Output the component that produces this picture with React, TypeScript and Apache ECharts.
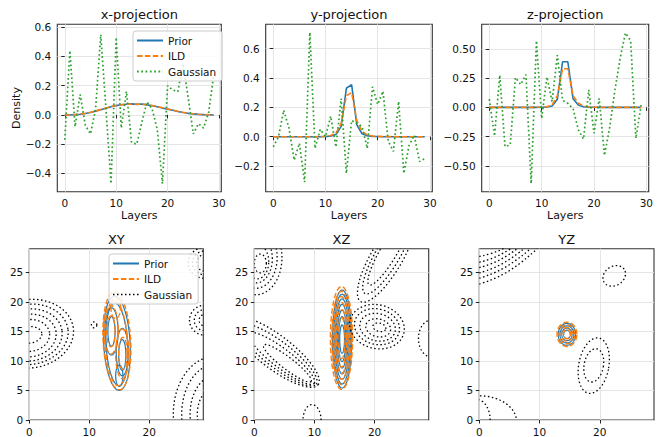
import React, { useEffect, useRef } from 'react';
import * as echarts from 'echarts';

const FONT = 'DejaVu Sans, Verdana, sans-serif';

// ---- 1D projections (density per layer) ----
const layers = Array.from({ length: 30 }, (_, i) => i);

const priorX = [0.0, 0.0, 0.002, 0.005, 0.01, 0.017, 0.026, 0.036, 0.046, 0.056, 0.064, 0.07, 0.073, 0.076, 0.072, 0.075, 0.069, 0.063, 0.056, 0.048, 0.04, 0.032, 0.024, 0.017, 0.011, 0.007, 0.004, 0.002, 0.001, 0.0];
const ildX = [0.0, 0.0, 0.002, 0.006, 0.011, 0.018, 0.027, 0.037, 0.047, 0.057, 0.065, 0.07, 0.074, 0.073, 0.074, 0.073, 0.07, 0.064, 0.057, 0.049, 0.041, 0.033, 0.025, 0.018, 0.012, 0.008, 0.005, 0.003, 0.001, 0.0];
const gaussX = [-0.17, 0.44, -0.08, 0.14, -0.07, -0.13, 0.04, 0.55, 0.05, -0.47, 0.53, -0.09, 0.16, -0.19, -0.2, -0.05, 0.09, 0.04, -0.1, -0.47, 0.2, 0.17, 0.16, 0.35, 0.12, -0.13, -0.06, -0.09, 0.02, 0.28];

const priorY = [0, 0, 0, 0, 0, 0, 0, 0, 0, 0, 0.001, 0.004, 0.015, 0.07, 0.33, 0.355, 0.08, 0.02, 0.006, 0.002, 0.001, 0, 0, 0, 0, 0, 0, 0, 0, 0];
const ildY = [0, 0, 0, 0, 0, 0, 0, 0, 0, 0.001, 0.003, 0.008, 0.025, 0.09, 0.28, 0.3, 0.11, 0.035, 0.012, 0.005, 0.002, 0.001, 0.001, 0, 0, 0, 0, 0, 0, 0];
const gaussY = [-0.07, 0.0, 0.18, 0.06, -0.16, -0.045, -0.31, 0.71, -0.08, 0.05, 0.0, 0.14, -0.07, 0.26, -0.25, 0.11, 0.09, 0.07, -0.08, 0.34, 0.22, 0.31, -0.03, -0.1, 0.24, -0.25, -0.06, 0.01, -0.17, -0.15];

const priorZ = [0, 0, 0, 0, 0, 0, 0, 0, 0, 0, 0.001, 0.003, 0.012, 0.07, 0.39, 0.39, 0.075, 0.02, 0.006, 0.002, 0.001, 0, 0, 0, 0, 0, 0, 0, 0, 0];
const ildZ = [0, 0, 0, 0, 0, 0, 0, 0, 0, 0.001, 0.003, 0.006, 0.02, 0.1, 0.33, 0.33, 0.1, 0.035, 0.012, 0.005, 0.002, 0.001, 0, 0, 0, 0, 0, 0, 0, 0];
const gaussZ = [0.07, -0.245, 0.275, -0.335, -0.32, 0.255, 0.195, 0.28, -0.65, 0.57, -0.094, 0.26, 0.05, 0.446, 0.06, 0.035, -0.01, -0.19, -0.27, 0.15, -0.22, 0.077, -0.41, -0.17, 0.15, 0.42, 0.636, 0.57, -0.265, 0.02];

// ---- tick labels ----
const layerTicks = [0, 10, 20, 30];
const xProjTicks = [-0.4, -0.2, 0, 0.2, 0.4, 0.6];
const yProjTicks = [-0.2, 0, 0.2, 0.4, 0.6];
const zProjTicks = [-0.5, -0.25, 0, 0.25, 0.5];
const planeHTicks = [0, 10, 20];
const planeVTicks = [0, 5, 10, 15, 20, 25];

// ---- 2D contour levels: [centerX, centerY, radiusX, radiusY, rotationDeg] ----
const xyPrior = [
  [14.6, 13.0, 2.2, 8.0, 3],
  [14.6, 12.8, 1.8, 7.0, 3],
  [13.7, 15.0, 1.1, 4.0, 0],
  [15.5, 11.5, 1.0, 4.0, 0],
  [13.7, 15.0, 0.6, 2.5, 0],
  [15.5, 11.0, 0.6, 2.6, 0],
  [15.0, 7.5, 0.6, 1.8, 0],
];
const xyILD = [
  [14.6, 13.4, 2.3, 8.3, 3],
  [14.5, 13.0, 1.9, 7.2, 3],
  [13.6, 15.3, 1.2, 4.1, 0],
  [15.5, 11.2, 1.1, 4.2, 0],
  [13.6, 15.0, 0.7, 2.6, 0],
  [15.6, 11.3, 0.7, 2.7, 0],
  [14.4, 19.0, 0.8, 1.8, 0],
];
const xyGauss = [
  [0.0, 14.6, 7.4, 5.8, 8],
  [0.0, 14.5, 6.5, 5.1, 8],
  [0.0, 14.4, 5.5, 4.4, 8],
  [0.0, 14.3, 4.5, 3.6, 8],
  [0.0, 14.3, 3.4, 2.7, 8],
  [0.0, 14.4, 2.1, 1.4, 8],
  [10.8, 16.1, 0.45, 0.5, 0],
  [29.2, 26.6, 2.7, 2.6, 0],
  [29.2, 26.6, 2.0, 2.0, 0],
  [29.2, 26.6, 1.3, 1.4, 0],
  [29.3, 16.9, 2.6, 2.55, 0],
  [29.3, 16.9, 1.8, 1.8, 0],
  [29.3, 16.9, 1.0, 1.0, 0],
  [31.0, 1.0, 7.0, 9.8, 0],
  [31.0, 1.0, 5.6, 8.4, 0],
  [31.0, 1.0, 4.2, 6.5, 0],
  [31.0, 1.0, 3.0, 4.5, 0],
];

const xzPrior = [
  [14.6, 13.7, 1.6, 8.3, 0],
  [14.6, 13.7, 1.4, 7.6, 0],
  [14.6, 13.7, 1.2, 6.8, 0],
  [14.6, 13.7, 1.0, 5.9, 0],
  [14.6, 13.7, 0.8, 4.9, 0],
  [14.6, 13.7, 0.6, 3.8, 0],
  [14.6, 13.7, 0.4, 2.4, 0],
];
const xzILD = [
  [14.5, 13.9, 1.85, 8.7, 0],
  [14.5, 13.9, 1.6, 7.9, 0],
  [14.5, 13.9, 1.35, 7.0, 0],
  [14.5, 13.9, 1.1, 6.0, 0],
  [14.5, 13.9, 0.85, 4.9, 0],
  [14.5, 13.9, 0.6, 3.5, 0],
];
const xzGauss = [
  [0.3, 27.5, 4.3, 6.3, 0],
  [0.3, 27.5, 3.5, 5.2, 0],
  [0.3, 27.3, 2.7, 4.1, 0],
  [0.5, 26.8, 1.9, 2.9, 0],
  [1.0, 26.5, 1.0, 1.6, 0],
  [3.5, 11.5, 9.0, 2.8, -38],
  [4.0, 11.0, 8.0, 2.2, -38],
  [4.6, 10.4, 6.8, 1.6, -38],
  [5.5, 9.6, 5.0, 1.0, -38],
  [9.6, 0.0, 1.5, 2.6, 0],
  [20.4, 15.8, 4.6, 3.7, -15],
  [20.4, 15.8, 3.8, 3.0, -15],
  [20.5, 15.7, 3.0, 2.3, -15],
  [20.6, 15.6, 2.1, 1.5, -15],
  [20.8, 15.7, 1.1, 0.7, -15],
  [22.0, 27.5, 8.6, 2.6, 60],
  [22.2, 28.0, 7.6, 2.0, 60],
  [22.4, 28.6, 6.6, 1.4, 60],
  [29.4, 13.8, 2.1, 3.1, 0],
];

const yzPrior = [
  [14.55, 14.5, 1.45, 1.85, 0],
  [14.55, 14.5, 1.15, 1.45, 0],
  [14.55, 14.5, 0.85, 1.05, 0],
  [14.55, 14.5, 0.55, 0.7, 0],
];
const yzILD = [
  [14.55, 14.5, 1.65, 2.05, 0],
  [14.55, 14.5, 1.3, 1.6, 0],
  [14.55, 14.5, 0.95, 1.15, 0],
  [14.55, 14.5, 0.6, 0.75, 0],
];
const yzGauss = [
  [22.4, 24.4, 2.0, 1.6, 35],
  [19.0, 9.2, 2.5, 4.75, -10],
  [19.0, 9.25, 1.6, 2.85, -10],
  [0.0, -0.3, 6.2, 4.4, 0],
  [-0.5, 0.0, 2.3, 3.5, 0],
];
// open contour lines running into the top-left corner
const yzGaussLines = [
  [[0, 27.7], [2.0, 28.2], [4.0, 29]],
  [[0, 26.7], [2.7, 27.6], [5.2, 29]],
  [[0, 25.8], [3.2, 27.0], [6.3, 29]],
  [[0, 24.9], [3.7, 26.4], [7.4, 29]],
  [[0, 24.0], [4.2, 25.8], [8.5, 29]],
  [[0, 23.0], [4.7, 25.1], [9.6, 29]],
];

const C_PRIOR = '#1f77b4';
const C_ILD = '#ff7f0e';
const C_GAUSS = '#2ca02c';
const DASH = [5.5, 2.4];
const DOT = [1.5, 2.5];
const DOT_TOP = [1.7, 2.6];

const fmt = (d: number) => (v: number) => v.toFixed(d).replace('-', '\u2212');

const topGrids = [
  { left: 57.3, width: 164, title: 'x-projection' },
  { left: 265.7, width: 166.6, title: 'y-projection' },
  { left: 481.7, width: 167, title: 'z-projection' },
];
const botGrids = [
  { left: 29.3, width: 174, title: 'XY' },
  { left: 254.3, width: 174.4, title: 'XZ' },
  { left: 479.3, width: 174.7, title: 'YZ' },
];

function contourSeries(name: string, axis: number, data: number[][], color: string, dash: number[] | null, width: number) {
  return {
    type: 'custom',
    name,
    xAxisIndex: axis,
    yAxisIndex: axis,
    data,
    silent: true,
    encode: { x: 0, y: 1 },
    renderItem: (params: any, api: any) => {
      const cx = api.value(0) as number;
      const cy = api.value(1) as number;
      const rx = api.value(2) as number;
      const ry = api.value(3) as number;
      const a = ((api.value(4) as number) * Math.PI) / 180;
      const pts: number[][] = [];
      const n = 120;
      for (let i = 0; i <= n; i++) {
        const t = (i / n) * Math.PI * 2;
        const ex = rx * Math.cos(t);
        const ey = ry * Math.sin(t);
        pts.push(api.coord([cx + ex * Math.cos(a) - ey * Math.sin(a), cy + ex * Math.sin(a) + ey * Math.cos(a)]));
      }
      const cs = params.coordSys;
      return {
        type: 'group',
        clipPath: { type: 'rect', shape: { x: cs.x, y: cs.y, width: cs.width, height: cs.height } },
        children: [
          {
            type: 'polyline',
            shape: { points: pts },
            style: { stroke: color, lineWidth: width, lineDash: dash || undefined, fill: 'none' },
          },
        ],
      };
    },
  };
}

export default function App() {
  const ref = useRef<HTMLDivElement>(null);

  useEffect(() => {
    if (!ref.current) return;
    const chart = echarts.init(ref.current, undefined, { renderer: 'svg' });

    const axisCommon = {
      axisLine: { show: false },
      axisTick: { show: true, inside: false, length: 3.5, lineStyle: { color: '#222', width: 1 } },
      splitLine: { show: true, lineStyle: { color: '#e2e2e2', width: 0.9 } },
    };
    const labelStyle = { fontSize: 10.5, color: '#111', fontFamily: FONT };

    const grids: any[] = [];
    const xAxes: any[] = [];
    const yAxes: any[] = [];
    const titles: any[] = [];

    const yTickSets = [xProjTicks, yProjTicks, zProjTicks];
    const yRanges = [[-0.525, 0.62], [-0.375, 0.766], [-0.72, 0.71]];
    const yDec = [1, 1, 2];

    topGrids.forEach((g, i) => {
      grids.push({ left: g.left, top: 24.3, width: g.width, height: 167.4, show: true, borderColor: '#333', borderWidth: 1.1, backgroundColor: 'transparent' });
      xAxes.push({
        gridIndex: i, type: 'value', min: -1.45, max: 30.45,
        name: 'Layers', nameLocation: 'middle', nameGap: 17,
        nameTextStyle: { fontSize: 11, color: '#111', fontFamily: FONT },
        ...axisCommon,
        axisTick: { ...axisCommon.axisTick, customValues: layerTicks },
        axisLabel: { ...labelStyle, margin: 6, customValues: layerTicks, formatter: fmt(0) },
      });
      yAxes.push({
        gridIndex: i, type: 'value', min: yRanges[i][0], max: yRanges[i][1],
        name: i === 0 ? 'Density' : '', nameLocation: 'middle', nameGap: 35,
        nameTextStyle: { fontSize: 11, color: '#111', fontFamily: FONT },
        ...axisCommon,
        axisTick: { ...axisCommon.axisTick, customValues: yTickSets[i] },
        axisLabel: { ...labelStyle, margin: 6, customValues: yTickSets[i], formatter: fmt(yDec[i]) },
      });
      titles.push({ text: g.title, left: g.left + g.width / 2, top: 8, textAlign: 'center', padding: 0, textStyle: { fontSize: 13, fontWeight: 'normal', color: '#111', fontFamily: FONT } });
    });

    botGrids.forEach((g, j) => {
      const i = j + 3;
      grids.push({ left: g.left, top: 248.7, width: g.width, height: 173.6, show: true, borderColor: '#333', borderWidth: 1.1, backgroundColor: 'transparent' });
      xAxes.push({
        gridIndex: i, type: 'value', min: 0, max: 29,
        ...axisCommon,
        axisTick: { ...axisCommon.axisTick, customValues: planeHTicks },
        axisLabel: { ...labelStyle, margin: 6, customValues: planeHTicks, formatter: fmt(0) },
      });
      yAxes.push({
        gridIndex: i, type: 'value', min: 0, max: 29,
        ...axisCommon,
        axisTick: { ...axisCommon.axisTick, customValues: planeVTicks },
        axisLabel: { ...labelStyle, margin: 6, customValues: planeVTicks, formatter: fmt(0) },
      });
      titles.push({ text: g.title, left: g.left + g.width / 2, top: 233, textAlign: 'center', padding: 0, textStyle: { fontSize: 13, fontWeight: 'normal', color: '#111', fontFamily: FONT } });
    });

    const pair = (vals: number[]) => layers.map((l, k) => [l, vals[k]]);
    const proj = [
      [priorX, ildX, gaussX],
      [priorY, ildY, gaussY],
      [priorZ, ildZ, gaussZ],
    ];
    const series: any[] = [];
    proj.forEach((p, i) => {
      series.push({ type: 'line', name: 'Prior', xAxisIndex: i, yAxisIndex: i, data: pair(p[0]), symbol: 'none', lineStyle: { color: C_PRIOR, width: 1.6 }, itemStyle: { color: C_PRIOR } });
      series.push({ type: 'line', name: 'ILD', xAxisIndex: i, yAxisIndex: i, data: pair(p[1]), symbol: 'none', lineStyle: { color: C_ILD, width: 1.6, type: DASH }, itemStyle: { color: C_ILD } });
      series.push({ type: 'line', name: 'Gaussian', xAxisIndex: i, yAxisIndex: i, data: pair(p[2]), symbol: 'none', lineStyle: { color: C_GAUSS, width: 1.7, type: DOT_TOP, cap: 'butt' }, itemStyle: { color: C_GAUSS } });
    });

    const planes = [
      [xyPrior, xyILD, xyGauss],
      [xzPrior, xzILD, xzGauss],
      [yzPrior, yzILD, yzGauss],
    ];
    planes.forEach((p, j) => {
      const i = j + 3;
      series.push(contourSeries('Prior', i, p[0], C_PRIOR, null, 1.2));
      series.push(contourSeries('ILD', i, p[1], C_ILD, DASH, 1.4));
      series.push(contourSeries('Gaussian', i, p[2], '#000', DOT, 1.3));
    });
    yzGaussLines.forEach((ln) => {
      series.push({ type: 'line', name: 'Gaussian', xAxisIndex: 5, yAxisIndex: 5, data: ln, smooth: true, symbol: 'none', silent: true, lineStyle: { color: '#000', width: 1.3, type: DOT } });
    });

    // legend rows show only the line sample, no marker
    const hiddenMarker = { color: 'rgba(0,0,0,0)', borderWidth: 0, opacity: 0 };
    const legendBase = {
      orient: 'vertical',
      itemWidth: 26,
      itemHeight: 10,
      itemGap: 4.5,
      padding: [4, 6, 4, 3],
      backgroundColor: 'rgba(255,255,255,0.85)',
      borderColor: '#cccccc',
      borderWidth: 1,
      borderRadius: 3,
      selectedMode: false,
      itemStyle: hiddenMarker,
      textStyle: { fontSize: 10.5, color: '#111', fontFamily: FONT },
    };

    chart.setOption({
      animation: false,
      backgroundColor: '#ffffff',
      textStyle: { fontFamily: FONT },
      title: titles,
      grid: grids,
      xAxis: xAxes,
      yAxis: yAxes,
      legend: [
        { ...legendBase, left: 133, top: 31, data: ['Prior', 'ILD', 'Gaussian'] },
        {
          ...legendBase, left: 109, top: 254,
          data: ['Prior', 'ILD', { name: 'Gaussian', lineStyle: { color: '#000', width: 1.4, type: DOT }, itemStyle: hiddenMarker }],
        },
      ],
      series,
    });

    return () => chart.dispose();
  }, []);

  return <div ref={ref} style={{ position: 'absolute', left: 0, top: 0, width: 665, height: 437 }} />;
}
